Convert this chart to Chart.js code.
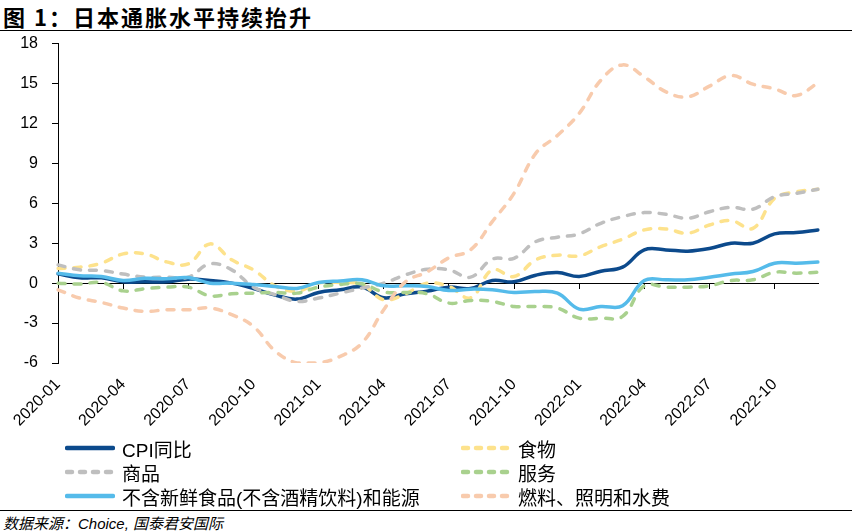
<!DOCTYPE html>
<html>
<head>
<meta charset="utf-8">
<script src="https://cdn.jsdelivr.net/npm/chart.js@4.4.0/dist/chart.umd.min.js"></script>
<style>
    body { margin: 0; width: 852px; height: 531px; background: #fff; position: relative; overflow: hidden;
           font-family: "Liberation Sans", "Noto Sans CJK SC", sans-serif; color: #000; }
    #title { position: absolute; left: 3px; top: 0px; font: bold 22px "Noto Sans CJK SC", sans-serif; letter-spacing: 2px; white-space: nowrap; }
    .rule { position: absolute; left: 0; width: 852px; height: 0; border-top: 1.5px solid #000; }
    #wrap { position: absolute; left: 0; top: 20px; width: 852px; height: 422px; }
    .item { position: absolute; display: flex; align-items: center; font-size: 19px; white-space: nowrap; height: 24px; }
    .item svg { margin-right: 7px; }
    #source { position: absolute; left: 3px; top: 512px; font: italic 15px "Liberation Sans", "Noto Sans CJK SC", sans-serif; white-space: nowrap; }
</style>
</head>
<body>
<div id="title">图 1：日本通胀水平持续抬升</div>
<div class="rule" style="top:30px"></div>
<div id="wrap"><canvas id="cpiChart" width="852" height="422"></canvas></div>
<div id="legend"></div>
<div class="rule" style="top:510px"></div>
<div id="source">数据来源：Choice, 国泰君安国际</div>

<script>
// Months 2020-01 .. 2022-12
const months = [
    '2020-01', '2020-02', '2020-03', '2020-04', '2020-05', '2020-06',
    '2020-07', '2020-08', '2020-09', '2020-10', '2020-11', '2020-12',
    '2021-01', '2021-02', '2021-03', '2021-04', '2021-05', '2021-06',
    '2021-07', '2021-08', '2021-09', '2021-10', '2021-11', '2021-12',
    '2022-01', '2022-02', '2022-03', '2022-04', '2022-05', '2022-06',
    '2022-07', '2022-08', '2022-09', '2022-10', '2022-11', '2022-12'
];

const yTicks = { min: -6, max: 18, step: 3 };

// Series (YoY %)
const cpi = [0.7, 0.4, 0.4, 0.1, 0.1, 0.1, 0.3, 0.2, 0.0, -0.4, -0.9, -1.2,
    -0.7, -0.5, -0.3, -1.1, -0.8, -0.6, -0.3, -0.4, 0.2, 0.1, 0.6, 0.8,
    0.5, 0.9, 1.2, 2.5, 2.5, 2.4, 2.6, 3.0, 3.0, 3.7, 3.8, 4.0];
const food = [1.1, 1.2, 1.5, 2.2, 2.2, 1.6, 1.45, 2.95, 1.75, 1.0, -0.2, -0.6,
    0.0, 0.05, -0.1, -1.25, -0.8, 0.0, -0.25, -1.1, 1.0, 0.5, 1.75, 2.1,
    2.05, 2.75, 3.3, 4.0, 4.07, 3.75, 4.37, 4.7, 4.12, 6.37, 6.87, 7.05];
const goods = [1.37, 1.0, 0.95, 0.68, 0.45, 0.45, 0.45, 1.45, 1.0, -0.3, -0.87, -1.37,
    -1.12, -0.75, -0.37, 0.0, 0.62, 1.05, 1.0, 0.45, 1.8, 1.87, 3.12, 3.45,
    3.7, 4.5, 5.0, 5.3, 5.17, 4.87, 5.37, 5.7, 5.55, 6.5, 6.75, 7.05];
const services = [0.0, -0.07, 0.05, -0.58, -0.42, -0.3, -0.3, -0.95, -0.8, -0.75, -0.7, -0.75,
    -0.3, -0.1, -0.05, -0.67, -0.7, -0.8, -1.5, -1.3, -1.37, -1.75, -1.75, -1.87,
    -2.63, -2.63, -2.5, -0.2, -0.3, -0.3, -0.2, 0.2, 0.25, 0.82, 0.75, 0.82];
const coreCore = [0.75, 0.55, 0.5, 0.2, 0.37, 0.33, 0.42, 0.0, 0.0, -0.1, -0.25, -0.4,
    0.05, 0.17, 0.25, -0.2, -0.2, -0.25, -0.55, -0.45, -0.5, -0.7, -0.63, -0.75,
    -1.95, -1.75, -1.7, 0.2, 0.25, 0.25, 0.45, 0.68, 0.87, 1.5, 1.5, 1.58];
const fuel = [-0.5, -1.12, -1.45, -1.87, -2.12, -2.0, -2.0, -1.87, -2.37, -3.25, -5.1, -6.0,
    -6.0, -5.5, -4.5, -2.0, 0.1, 0.85, 1.9, 2.5, 4.62, 6.75, 9.75, 11.1,
    12.75, 15.25, 16.4, 15.5, 14.37, 14.0, 14.8, 15.6, 14.95, 14.6, 14.1, 15.05];

// Series look + legend slot (col, row)
const SERIES = [
    { label: 'CPI同比', data: cpi, color: '#0c4a8c', dashed: false, col: 0, row: 0 },
    { label: '食物', data: food, color: '#fde28c', dashed: true, col: 1, row: 0 },
    { label: '商品', data: goods, color: '#bfbfbf', dashed: true, col: 0, row: 1 },
    { label: '服务', data: services, color: '#a9d18e', dashed: true, col: 1, row: 1 },
    { label: '不含新鲜食品(不含酒精饮料)和能源', data: coreCore, color: '#55bbea', dashed: false, col: 0, row: 2 },
    { label: '燃料、照明和水费', data: fuel, color: '#f8cbad', dashed: true, col: 1, row: 2 }
];

function buildLegend() {
    const box = document.getElementById('legend');
    const colX = [65, 461];
    const rowY = [436, 460, 484];
    SERIES.forEach(s => {
        const el = document.createElement('div');
        el.className = 'item';
        el.style.left = colX[s.col] + 'px';
        el.style.top = rowY[s.row] + 'px';
        const dash = s.dashed ? 'stroke-dasharray="5 8" stroke-linecap="round"' : 'stroke-linecap="round"';
        el.innerHTML = `
            <svg width="50" height="8"><line x1="2" y1="4" x2="48" y2="4" stroke="${s.color}" stroke-width="4.5" ${dash}/></svg>
            <span>${s.label}</span>
        `;
        box.appendChild(el);
    });
}

function initChart() {
    const ctx = document.getElementById('cpiChart').getContext('2d');
    new Chart(ctx, {
        type: 'line',
        data: {
            labels: months,
            datasets: SERIES.map((s, i) => ({
                label: s.label,
                data: s.data,
                borderColor: s.color,
                backgroundColor: s.color,
                borderWidth: 3.5,
                borderDash: s.dashed ? [7, 9] : [],
                borderCapStyle: 'round',
                pointRadius: 0,
                tension: 0.4,
                fill: false,
                xAxisID: 'x',
                order: SERIES.length - i  // later series painted on top
            }))
        },
        options: {
            responsive: false,
            animation: false,
            layout: { padding: { top: 11, right: 34, left: 0, bottom: 0 } },
            plugins: { legend: { display: false }, tooltip: { enabled: false } },
            scales: {
                y: {
                    min: yTicks.min,
                    max: yTicks.max,
                    ticks: { stepSize: yTicks.step, color: '#000', padding: 14,
                             font: { family: 'Liberation Sans', size: 16 } },
                    grid: { color: 'transparent', tickColor: '#000', tickLength: 6, drawOnChartArea: false },
                    border: { color: '#000', width: 1 },
                    afterFit: s => { s.width = 58; }
                },
                x: {
                    type: 'category',
                    position: { y: 0 },
                    offset: false,
                    ticks: { display: false, autoSkip: false },
                    grid: {
                        drawOnChartArea: false,
                        tickLength: 5,
                        tickColor: c => (c.index % 3 === 0 && c.index > 0) ? '#000' : 'transparent'
                    },
                    border: { color: '#000', width: 1 }
                },
                x2: {
                    type: 'category',
                    position: 'bottom',
                    offset: false,
                    grid: { display: false, drawTicks: false },
                    border: { display: false },
                    ticks: {
                        autoSkip: false,
                        minRotation: 45,
                        maxRotation: 45,
                        padding: 12,
                        color: '#000',
                        font: { family: 'Liberation Sans', size: 16 },
                        callback: (v, i) => (i % 3 === 0 ? months[i] : '')
                    },
                    afterFit: s => { s.height = 79; }
                }
            }
        }
    });
}

buildLegend();
initChart();
</script>
</body>
</html>
